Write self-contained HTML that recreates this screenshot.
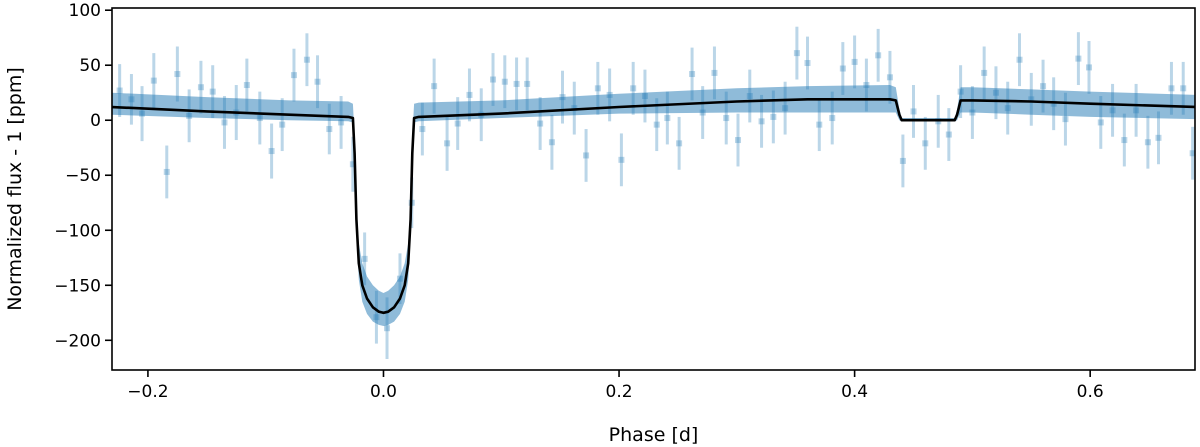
<!DOCTYPE html>
<html><head><meta charset="utf-8"><style>
html,body{margin:0;padding:0;background:#fff;}
svg{display:block;font-family:"DejaVu Sans","Liberation Sans",sans-serif;}
</style></head><body>
<svg id="chart" width="1200" height="447" viewBox="0 0 1200 447" xmlns="http://www.w3.org/2000/svg"></svg>
<script>
const phases=[-0.224,-0.214,-0.205,-0.195,-0.184,-0.175,-0.165,-0.155,-0.145,-0.135,-0.125,-0.116,-0.105,-0.095,-0.086,-0.076,-0.065,-0.056,-0.046,-0.036,-0.026,-0.016,-0.006,0.003,0.014,0.024,0.033,0.043,0.054,0.063,0.073,0.083,0.093,0.103,0.113,0.122,0.133,0.143,0.152,0.162,0.172,0.182,0.192,0.202,0.212,0.222,0.232,0.241,0.251,0.262,0.271,0.281,0.291,0.301,0.311,0.321,0.331,0.341,0.351,0.360,0.370,0.381,0.390,0.400,0.410,0.420,0.430,0.441,0.450,0.460,0.471,0.480,0.490,0.500,0.510,0.520,0.530,0.540,0.550,0.560,0.569,0.579,0.590,0.599,0.609,0.619,0.629,0.639,0.649,0.658,0.669,0.679,0.687];
const fluxes=[27,19,6,36,-47,42,4,30,26,-2,7,32,2,-28,-4,41,55,35,-8,-2,-40,-126,-179,-189,-144,-75,-8,31,-21,-3,23,5,37,35,33,33,-3,-20,21,11,-32,29,23,-36,29,22,-4,2,-21,42,7,43,2,-18,22,-1,3,11,61,52,-4,2,47,53,32,59,39,-37,8,-21,-1,-13,26,7,43,25,11,55,19,31,15,1,56,48,-2,9,-18,9,-20,-16,29,29,-30];
const errors=[24,23,25,25,24,25,24,24,24,24,25,24,24,25,24,24,24,24,23,24,25,24,24,28,23,23,24,25,25,24,24,24,24,24,24,24,24,25,24,24,24,24,24,24,24,24,24,24,24,24,24,24,24,24,24,24,24,24,24,24,24,24,24,24,24,24,24,24,24,24,24,24,24,24,24,24,24,24,24,24,24,24,24,24,24,24,24,24,24,24,24,24,24];
const modelPhase=[-0.231,-0.15,-0.08,-0.03,-0.026,-0.0245,-0.023,-0.021,-0.018,-0.014,-0.009,-0.004,0,0.004,0.009,0.014,0.018,0.021,0.023,0.0245,0.026,0.03,0.1,0.2,0.3,0.36,0.43,0.435,0.438,0.44,0.485,0.487,0.49,0.5,0.55,0.6,0.69];
const modelFlux=[12,8,5,3,2,-30,-90,-130,-150,-162,-170,-174,-175,-174,-170,-162,-150,-130,-90,-30,2,3,6,12,17,19,19,18,5,0,0,5,18,18,17,15,12];
const bandUpper=[25,21,18,17,15,-15,-75,-112,-130,-142,-150,-155,-157,-155,-150,-142,-130,-112,-75,-15,15,16,18,24,29,31,32,30,10,2,2,10,30,30,28,26,23];
const bandLower=[5,2,0,-1,-2,-40,-102,-145,-165,-176,-183,-186,-187,-186,-183,-176,-165,-145,-102,-40,-2,-1,2,6,7,7,7,7,0,-1,-1,0,7,7,5,3,1];
const xTicks=[-0.2,0.0,0.2,0.4,0.6];
const xTickLabels=["\u22120.2","0.0","0.2","0.4","0.6"];
const yTicks=[100,50,0,-50,-100,-150,-200];
const yTickLabels=["100","50","0","\u221250","\u2212100","\u2212150","\u2212200"];

const L=112,R=1195,T=8,B=370;
const xMin=-0.2305,xMax=0.689,yMin=-227,yMax=102;
const X=v=>L+(v-xMin)/(xMax-xMin)*(R-L);
const Y=v=>T+(yMax-v)/(yMax-yMin)*(B-T);
const svg=document.getElementById('chart');
const NS='http://www.w3.org/2000/svg';
function mk(tag,attrs,parent){const e=document.createElementNS(NS,tag);for(const k in attrs)e.setAttribute(k,attrs[k]);(parent||svg).appendChild(e);return e;}

const clip=mk('clipPath',{id:'pc'});mk('rect',{x:L,y:T,width:R-L,height:B-T},clip);
const plot=mk('g',{'clip-path':'url(#pc)'});



const pts=mk('g',{},plot);


for(let i=0;i<phases.length;i++){
  const g=mk('g',{fill:'#1f77b4','fill-opacity':0.3,stroke:'#1f77b4','stroke-opacity':0.3},pts);
  
  
  const x=X(phases[i]);
  mk('line',{x1:x,x2:x,y1:Y(fluxes[i]+errors[i]),y2:Y(fluxes[i]-errors[i]),'stroke-width':3},g);
  mk('rect',{x:x-3,y:Y(fluxes[i])-3,width:6,height:6,stroke:'none'},g);
}
let d='';
for(let i=0;i<modelPhase.length;i++)d+=(i?'L':'M')+X(modelPhase[i]).toFixed(1)+','+Y(bandUpper[i]).toFixed(1);
for(let i=modelPhase.length-1;i>=0;i--)d+='L'+X(modelPhase[i]).toFixed(1)+','+Y(bandLower[i]).toFixed(1);
const band=mk('path',{d:d+'Z',fill:'#1f77b4','fill-opacity':0.5,stroke:'none'},plot);


let m='';
for(let i=0;i<modelPhase.length;i++)m+=(i?'L':'M')+X(modelPhase[i]).toFixed(1)+','+Y(modelFlux[i]).toFixed(1);
const ml=mk('path',{d:m,fill:'none',stroke:'#000','stroke-width':2.6,'stroke-linejoin':'round'},plot);



const fr=mk('rect',{x:L,y:T,width:R-L,height:B-T,fill:'none',stroke:'#000','stroke-width':1.6});



const xa=mk('g',{});


xTicks.forEach((v,i)=>{
  const x=X(v);
  mk('line',{x1:x,x2:x,y1:B,y2:B+7,stroke:'#000','stroke-width':1.6},xa);
  const t=mk('text',{x:x,y:B+27,'text-anchor':'middle','font-size':17,fill:'#000'},xa);
  
  
  t.textContent=xTickLabels[i];
});
const ya=mk('g',{});


yTicks.forEach((v,i)=>{
  const y=Y(v);
  mk('line',{x1:L-7,x2:L,y1:y,y2:y,stroke:'#000','stroke-width':1.6},ya);
  const t=mk('text',{x:L-11,y:y+6,'text-anchor':'end','font-size':17,fill:'#000'},ya);
  
  
  t.textContent=yTickLabels[i];
});
const xt=mk('text',{x:(L+R)/2,y:441,'text-anchor':'middle','font-size':19,fill:'#000'});


xt.textContent='Phase [d]';
const yt=mk('text',{x:0,y:0,'text-anchor':'middle','font-size':19,fill:'#000',transform:'translate(21,'+((T+B)/2)+') rotate(-90)'});


yt.textContent='Normalized flux - 1 [ppm]';
</script>
</body></html>
